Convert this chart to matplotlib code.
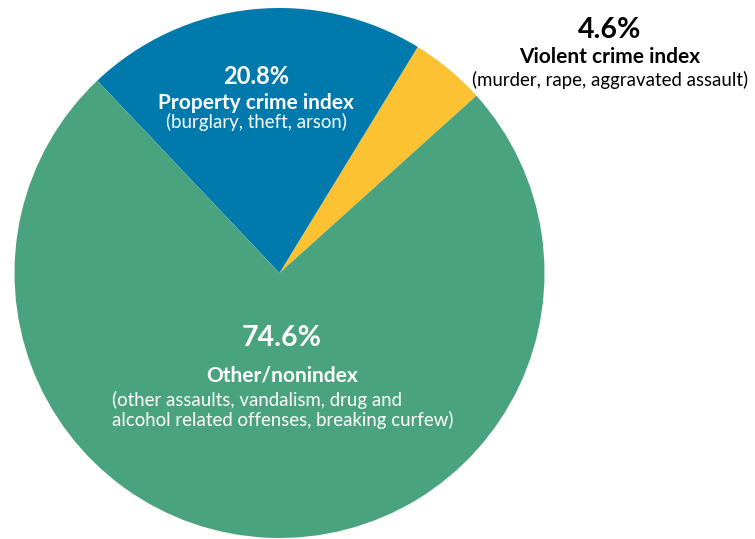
import matplotlib
matplotlib.use("Agg")
import matplotlib.pyplot as plt

plt.rcParams["font.family"] = ["Lato", "DejaVu Sans"]

# slices, counter-clockwise from the right-hand edge of the yellow wedge
categories = ["Violent crime index", "Property crime index", "Other/nonindex"]
shares = [4.6, 20.8, 74.6]
details = [
    "(murder, rape, aggravated assault)",
    "(burglary, theft, arson)",
    "(other assaults, vandalism, drug and\nalcohol related offenses, breaking curfew)",
]
colors = ["#FDC232", "#0079AD", "#4AA37F"]

W, H = 755, 539
fig = plt.figure(figsize=(W / 100, H / 100), dpi=100)
ax = fig.add_axes([0, 0, 1, 1])

cx, cy, r = 279.5, H - 273, 265
ax.pie(shares, colors=colors, startangle=42, counterclock=True,
       center=(cx, cy), radius=r, wedgeprops=dict(linewidth=0))
ax.set_xlim(0, W)
ax.set_ylim(0, H)
ax.set_aspect("equal")
ax.axis("off")


def py(y):
    return H - y


PCT, CAT, DET = 20.5, 15, 13.4

# violent crime (outside, right)
ax.text(610, py(30), f"{shares[0]}%", ha="center", va="center",
        fontsize=PCT, fontweight="bold", color="black")
ax.text(610, py(57), categories[0], ha="center", va="center",
        fontsize=CAT, fontweight="bold", color="black")
ax.text(610, py(80), details[0], ha="center", va="center",
        fontsize=DET, color="black")

# property crime
ax.text(256, py(76), f"{shares[1]}%", ha="center", va="center",
        fontsize=17, fontweight="bold", color="white")
ax.text(256, py(103), categories[1], ha="center", va="center",
        fontsize=CAT, fontweight="bold", color="white")
ax.text(256, py(122), details[1], ha="center", va="center",
        fontsize=DET, color="white")

# other / nonindex
ax.text(282, py(338), f"{shares[2]}%", ha="center", va="center",
        fontsize=PCT, fontweight="bold", color="white")
ax.text(282, py(375), categories[2], ha="center", va="center",
        fontsize=CAT, fontweight="bold", color="white")
ax.text(283, py(410), details[2], ha="center", va="center",
        multialignment="left", fontsize=DET, color="white", linespacing=1.13)

fig.savefig("out.png", dpi=100)
